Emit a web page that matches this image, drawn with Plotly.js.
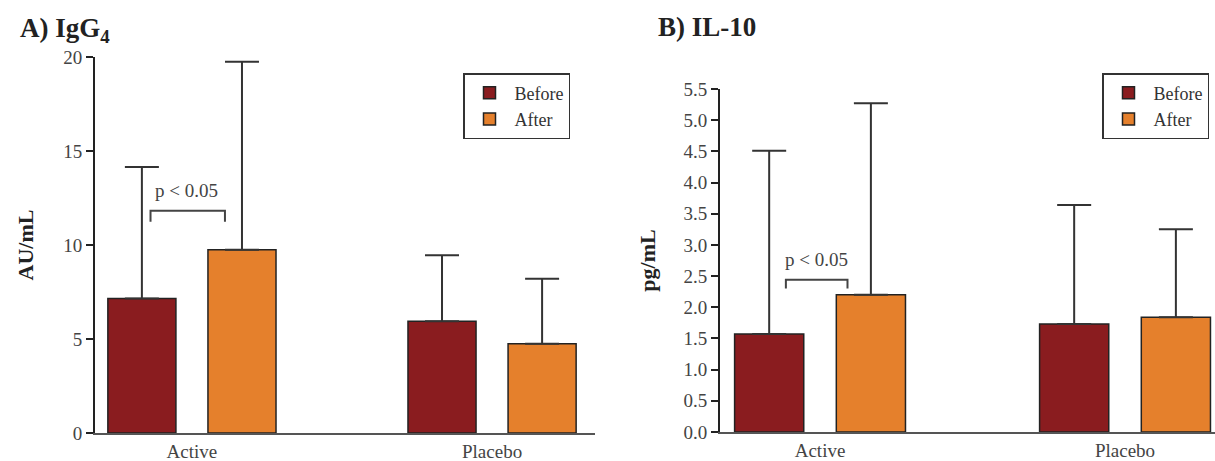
<!DOCTYPE html>
<html>
<head>
<meta charset="utf-8">
<script src="https://cdn.plot.ly/plotly-3.0.1.min.js"></script>
<style>html,body{margin:0;padding:0;background:#fff;}#chart{width:1215px;height:461px;}</style>
</head>
<body>
<div id="chart"></div>
<script>
// Data
var groups = ["Active", "Placebo"];
var seriesNames = ["Before", "After"];
// Panel A: IgG4 (AU/mL)
var igg4Before = [7.15, 5.95];
var igg4BeforeErr = [7.0, 3.5];
var igg4After = [9.75, 4.75];
var igg4AfterErr = [10.0, 3.45];
// Panel B: IL-10 (pg/mL)
var il10Before = [1.57, 1.73];
var il10BeforeErr = [2.94, 1.91];
var il10After = [2.2, 1.84];
var il10AfterErr = [3.07, 1.41];
var yTicksA = [0, 5, 10, 15, 20];
var yTicksB = [0, 0.5, 1, 1.5, 2, 2.5, 3, 3.5, 4, 4.5, 5, 5.5];
var sigLabel = "p < 0.05";

var cBefore = "#8a1c1f", cAfter = "#e5802c";
var serif = "'Liberation Serif', 'Times New Roman', serif";

function barTrace(name, x, y, err, color, xa, ya, legend) {
  return {
    type: "bar", name: name, x: x, y: y,
    xaxis: xa, yaxis: ya, legend: legend,
    marker: {color: color, line: {color: "#222", width: 1.5}},
    error_y: {type: "data", array: err, arrayminus: err.map(function(){return 0;}), symmetric: false,
              color: "#333", thickness: 2, width: 17},
    hoverinfo: "skip"
  };
}

var data = [
  barTrace(seriesNames[0], groups, igg4Before, igg4BeforeErr, cBefore, "x", "y", "legend"),
  barTrace(seriesNames[1], groups, igg4After, igg4AfterErr, cAfter, "x", "y", "legend"),
  barTrace(seriesNames[0], groups, il10Before, il10BeforeErr, cBefore, "x2", "y2", "legend2"),
  barTrace(seriesNames[1], groups, il10After, il10AfterErr, cAfter, "x2", "y2", "legend2")
];

var W = 1215, H = 461;
function yAxis(range, ticks, title, domain, anchor, standoff) {
  return {
    domain: domain, anchor: anchor, range: range, tickvals: ticks,
    ticktext: ticks.map(function(v){ return ticks === yTicksB ? v.toFixed(1) : String(v); }),
    showgrid: false, zeroline: false, showline: true, linecolor: "#222", linewidth: 2,
    ticks: "outside", ticklen: 7, tickwidth: 2, tickcolor: "#222",
    tickfont: {family: serif, size: 19, color: "#444"},
    title: {text: title, font: {family: serif, size: 22, color: "#222", weight: "bold"}, standoff: standoff},
    fixedrange: true
  };
}
function xAxis(domain, range, anchor) {
  return {
    domain: domain, anchor: anchor, type: "category", range: range,
    showgrid: false, zeroline: false, showline: true, linecolor: "#555", linewidth: 2,
    ticks: "", tickfont: {family: serif, size: 19, color: "#444"}, fixedrange: true
  };
}

var legendFont = {family: serif, size: 18, color: "#333"};
var layout = {
  width: W, height: H,
  margin: {l: 0, r: 0, t: 0, b: 0},
  paper_bgcolor: "#fff", plot_bgcolor: "#fff",
  barmode: "group", bargap: 0.333, bargroupgap: 0.32,
  xaxis: xAxis([95 / W, 595 / W], [-0.323, 1.343], "y"),
  yaxis: yAxis([0, 20], yTicksA, "AU/mL", [28 / H, 404 / H], "x", 24),
  xaxis2: xAxis([720 / W, 1], [-0.328, 1.295], "y2"),
  yaxis2: yAxis([0, 5.5], yTicksB, "pg/mL", [29 / H, 372 / H], "x2", 22),
  legend: {x: 463 / W, y: 1 - 73 / H, xanchor: "left", yanchor: "top", bgcolor: "#fff",
           bordercolor: "#333", borderwidth: 1.5, font: legendFont, tracegroupgap: 0, itemwidth: 40},
  legend2: {x: 1102 / W, y: 1 - 73 / H, xanchor: "left", yanchor: "top", bgcolor: "#fff",
           bordercolor: "#333", borderwidth: 1.5, font: legendFont, tracegroupgap: 0, itemwidth: 40},
  showlegend: true,
  annotations: [
    {text: "<b>A) IgG<sub>4</sub></b>", xref: "paper", yref: "paper", x: 18 / W, y: 1 - 30 / H,
     xanchor: "left", yanchor: "middle", showarrow: false, font: {family: serif, size: 27, color: "#222"}},
    {text: "<b>B) IL-10</b>", xref: "paper", yref: "paper", x: 656 / W, y: 1 - 27 / H,
     xanchor: "left", yanchor: "middle", showarrow: false, font: {family: serif, size: 27, color: "#222"}},
    {text: sigLabel, xref: "x", yref: "y", x: -0.018, y: 12.9, showarrow: false,
     font: {family: serif, size: 19, color: "#444"}},
    {text: sigLabel, xref: "x2", yref: "y2", x: -0.012, y: 2.76, showarrow: false,
     font: {family: serif, size: 19, color: "#444"}}
  ],
  shapes: [
    {type: "path", xref: "x", yref: "y", path: "M -0.138 11.24 L -0.138 11.82 L 0.11 11.82 L 0.11 11.24",
     line: {color: "#444", width: 2}},
    {type: "path", xref: "x2", yref: "y2", path: "M -0.112 2.30 L -0.112 2.44 L 0.09 2.44 L 0.09 2.30",
     line: {color: "#444", width: 2}}
  ]
};

Plotly.newPlot("chart", data, layout, {staticPlot: true, displayModeBar: false});
</script>
</body>
</html>
